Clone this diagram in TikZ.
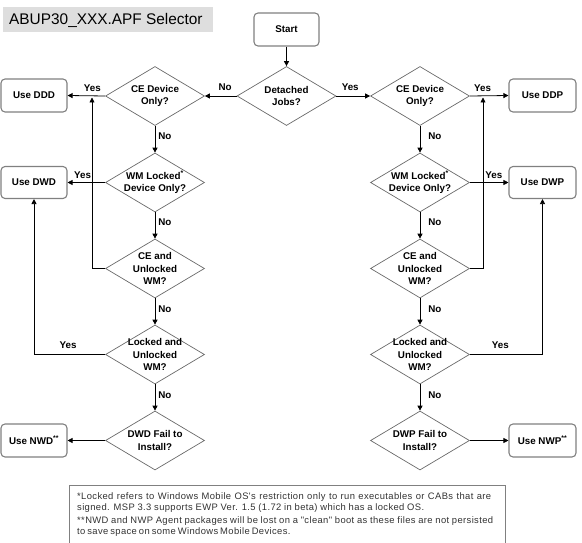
\documentclass[tikz,border=0pt]{standalone}
\usepackage{fontspec}
\setmainfont{Liberation Sans}
\newfontfamily\notefont[LetterSpace=4]{Liberation Sans}
\usetikzlibrary{shapes.geometric,arrows.meta}
\definecolor{boxgray}{RGB}{128,128,128}
\definecolor{diagray}{RGB}{105,105,105}
\definecolor{titlebg}{RGB}{222,222,222}
\definecolor{notegray}{RGB}{50,50,50}
\begin{document}
\begin{tikzpicture}[x=1pt,y=-1pt,
  every node/.style={font=\fontsize{9.8}{12.5}\selectfont\bfseries},
  endbox/.style={draw=boxgray, line width=1.1pt, rounded corners=4pt, minimum width=66pt, minimum height=32pt, inner sep=0pt, align=center},
  dia/.style={diamond, draw=diagray, line width=0.7pt, minimum width=99pt, minimum height=59pt, inner sep=0pt},
  dtxt/.style={align=center, inner sep=0pt},
  conn/.style={draw=black, line width=0.8pt, -{Triangle[length=5pt,width=5pt]}},
  lbl/.style={inner sep=0pt, font=\fontsize{9.8}{11}\selectfont\bfseries},
  note/.style={inner sep=0pt, anchor=base west, text=notegray, font=\notefont\fontsize{9.4}{11}\selectfont},
]
\useasboundingbox (0,0) rectangle (582,543);

% title
\node[fill=titlebg, anchor=north west, minimum width=210pt, minimum height=25pt, inner sep=0pt] (titlebox) at (3,7) {};
\node[anchor=base west, inner sep=0pt, font=\fontsize{15.4}{18}\selectfont] (titletext) at (9,24.5) {ABUP30\_XXX.APF Selector};

% start
\node[endbox, minimum width=65pt, minimum height=33pt] (start) at (286.5,29.5) {Start};
\node[dia] (det) at (286.5,96) {};
\node[dtxt] (dett) at (det) {Detached\\Jobs?};

% left column
\node[dia] (ce1) at (155,96) {};
\node[dtxt] (ce1t) at (ce1) {CE Device\\Only?};
\node[dia] (wm1) at (155,182.5) {};
\node[dtxt] (wm1t) at (wm1) {WM Locked\textsuperscript{*}\\Device Only?};
\node[dia] (ceu1) at (155,268.5) {};
\node[dtxt] (ceu1t) at (ceu1) {CE and\\Unlocked\\WM?};
\node[dia] (lu1) at (155,354.5) {};
\node[dtxt] (lu1t) at (lu1) {Locked and\\Unlocked\\WM?};
\node[dia] (fail1) at (155,440.5) {};
\node[dtxt] (fail1t) at (fail1) {DWD Fail to\\Install?};

\node[endbox, minimum height=33pt] (ddd) at (34,95.5) {Use DDD};
\node[endbox] (dwd) at (34,182.5) {Use DWD};
\node[endbox, minimum height=33pt] (nwd) at (34,440.5) {Use NWD\textsuperscript{**}};

% right column
\node[dia] (ce2) at (420,96) {};
\node[dtxt] (ce2t) at (ce2) {CE Device\\Only?};
\node[dia] (wm2) at (420,182.5) {};
\node[dtxt] (wm2t) at (wm2) {WM Locked\textsuperscript{*}\\Device Only?};
\node[dia] (ceu2) at (420,268.5) {};
\node[dtxt] (ceu2t) at (ceu2) {CE and\\Unlocked\\WM?};
\node[dia] (lu2) at (420,354.5) {};
\node[dtxt] (lu2t) at (lu2) {Locked and\\Unlocked\\WM?};
\node[dia] (fail2) at (420,440.5) {};
\node[dtxt] (fail2t) at (fail2) {DWP Fail to\\Install?};

\node[endbox, minimum width=67pt, minimum height=33pt] (ddp) at (542.5,95.5) {Use DDP};
\node[endbox, minimum width=67pt] (dwp) at (542.5,182.5) {Use DWP};
\node[endbox, minimum width=67pt, minimum height=33pt] (nwp) at (542.5,440.5) {Use NWP\textsuperscript{**}};

% connectors
\draw[conn] (start) -- (det);
\draw[conn] (det.west) -- node[lbl, pos=0.36, above=5.5pt] {No} (ce1.east);
\draw[conn] (det.east) -- node[lbl, pos=0.41, above=5.5pt] {Yes} (ce2.west);

\draw[conn] (ce1.west) -- node[lbl, pos=0.34, above=3.5pt] {Yes} (ddd.east);
\draw[conn] (ce2.east) -- node[lbl, pos=0.33, above=3.5pt] {Yes} (ddp.west);
\draw[conn] (wm1.west) -- node[lbl, pos=0.6, above=3.5pt] {Yes} (dwd.east);
\draw[conn] (wm2.east) -- node[lbl, pos=0.62, above=3.5pt] {Yes} (dwp.west);

\draw[conn] (ce1.south) -- node[lbl, pos=0.38, right=3pt] {No} (wm1.north);
\draw[conn] (wm1.south) -- node[lbl, pos=0.38, right=3pt] {No} (ceu1.north);
\draw[conn] (ceu1.south) -- node[lbl, pos=0.4, right=3pt] {No} (lu1.north);
\draw[conn] (lu1.south) -- node[lbl, pos=0.42, right=3pt] {No} (fail1.north);

\draw[conn] (ce2.south) -- node[lbl, pos=0.38, right=8pt] {No} (wm2.north);
\draw[conn] (wm2.south) -- node[lbl, pos=0.38, right=8pt] {No} (ceu2.north);
\draw[conn] (ceu2.south) -- node[lbl, pos=0.4, right=8pt] {No} (lu2.north);
\draw[conn] (lu2.south) -- node[lbl, pos=0.42, right=8pt] {No} (fail2.north);

\coordinate (j1) at (92,97.5);
\coordinate (j2) at (483,97.5);
\draw[conn] (ceu1.west) -| (j1);
\draw[conn] (ceu2.east) -| (j2);
\draw[conn] (lu1.west) -| node[lbl, pos=0.26, above=5.5pt] {Yes} (dwd.south);
\draw[conn] (lu2.east) -| node[lbl, pos=0.21, above=5.5pt] {Yes} (dwp.south);

\draw[conn] (fail1.west) -- (nwd.east);
\draw[conn] (fail2.east) -- (nwp.west);

% footnote
\node[draw=boxgray, line width=0.8pt, anchor=north west, minimum width=436pt, minimum height=80pt, inner sep=0pt] (notebox) at (69,485) {};
\node[note] (n1) at (77,499.5) {\makebox[414pt][s]{*Locked refers to Windows Mobile OS's restriction only to run executables or CABs that are}};
\node[note] (n2) at (77,510) {\makebox[347pt][s]{signed. MSP 3.3 supports EWP Ver. 1.5 (1.72 in beta) which has a locked OS.}};
\node[note] (n3) at (77,523) {\makebox[416pt][s]{**NWD and NWP Agent packages will be lost on a "clean" boot as these files are not persisted}};
\node[note] (n4) at (77,534) {\makebox[206pt][s]{to save space on some Windows Mobile Devices.}};
\end{tikzpicture}
\end{document}
